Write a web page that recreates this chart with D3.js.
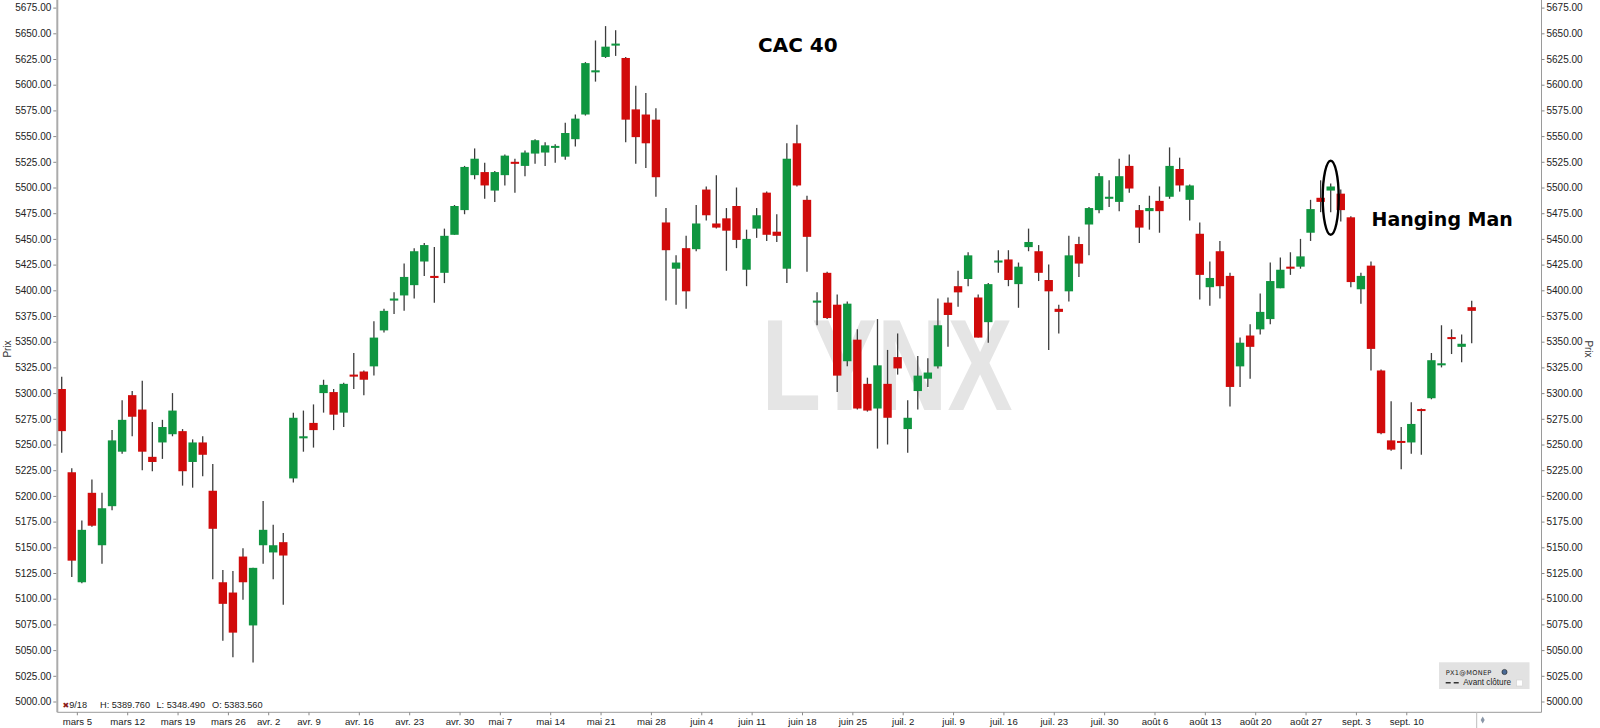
<!DOCTYPE html>
<html>
<head>
<meta charset="utf-8">
<script src="https://cdn.jsdelivr.net/npm/d3@7"></script>
<style>
  html, body { margin: 0; padding: 0; background: #fff; }
  svg { display: block; }
</style>
</head>
<body>
<svg id="chart" width="1600" height="728"></svg>
<script>
// ---------------- DATA ----------------
const dates = [
"2018-03-01","2018-03-02","2018-03-05","2018-03-06","2018-03-07","2018-03-08","2018-03-09","2018-03-12","2018-03-13","2018-03-14",
"2018-03-15","2018-03-16","2018-03-19","2018-03-20","2018-03-21","2018-03-22","2018-03-23","2018-03-26","2018-03-27","2018-03-28",
"2018-03-29","2018-04-03","2018-04-04","2018-04-05","2018-04-06","2018-04-09","2018-04-10","2018-04-11","2018-04-12","2018-04-13",
"2018-04-16","2018-04-17","2018-04-18","2018-04-19","2018-04-20","2018-04-23","2018-04-24","2018-04-25","2018-04-26","2018-04-27",
"2018-04-30","2018-05-02","2018-05-03","2018-05-04","2018-05-07","2018-05-08","2018-05-09","2018-05-10","2018-05-11","2018-05-14",
"2018-05-15","2018-05-16","2018-05-17","2018-05-18","2018-05-21","2018-05-22","2018-05-23","2018-05-24","2018-05-25","2018-05-28",
"2018-05-29","2018-05-30","2018-05-31","2018-06-01","2018-06-04","2018-06-05","2018-06-06","2018-06-07","2018-06-08","2018-06-11",
"2018-06-12","2018-06-13","2018-06-14","2018-06-15","2018-06-18","2018-06-19","2018-06-20","2018-06-21","2018-06-22","2018-06-25",
"2018-06-26","2018-06-27","2018-06-28","2018-06-29","2018-07-02","2018-07-03","2018-07-04","2018-07-05","2018-07-06","2018-07-09",
"2018-07-10","2018-07-11","2018-07-12","2018-07-13","2018-07-16","2018-07-17","2018-07-18","2018-07-19","2018-07-20","2018-07-23",
"2018-07-24","2018-07-25","2018-07-26","2018-07-27","2018-07-30","2018-07-31","2018-08-01","2018-08-02","2018-08-03","2018-08-06",
"2018-08-07","2018-08-08","2018-08-09","2018-08-10","2018-08-13","2018-08-14","2018-08-15","2018-08-16","2018-08-17","2018-08-20",
"2018-08-21","2018-08-22","2018-08-23","2018-08-24","2018-08-27","2018-08-28","2018-08-29","2018-08-30","2018-08-31","2018-09-03",
"2018-09-04","2018-09-05","2018-09-06","2018-09-07","2018-09-10","2018-09-11","2018-09-12","2018-09-13","2018-09-14","2018-09-17",
"2018-09-18"
];

const openVals = [
5304,5223,5116,5203,5152,5190,5243,5298,5284,5238, 5252,5260,5263,5233,5252,5205,5116,5106,5141,5074,
5152,5145,5155,5217,5256,5271,5300,5301,5281,5318, 5321,5326,5361,5390,5395,5405,5428,5414,5417,5454,
5478,5512,5515,5497,5512,5525,5521,5533,5534,5539, 5530,5547,5571,5612,5627,5638,5626,5576,5571,5566,
5466,5421,5441,5440,5498,5465,5470,5482,5420,5460, 5495,5457,5421,5543,5488,5388,5417,5386,5331,5352,
5309,5285,5309,5335,5265,5302,5314,5326,5388,5404, 5411,5393,5369,5427,5430,5406,5442,5438,5410,5382,
5399,5445,5464,5478,5489,5486,5521,5478,5477,5487, 5491,5518,5488,5455,5403,5438,5414,5326,5356,5362,
5372,5402,5423,5423,5456,5490,5497,5494,5471,5401, 5424,5322,5254,5253,5252,5284,5295,5327,5354,5345,
5383.56
];
const highVals = [
5316,5227,5176,5216,5203,5264,5293,5302,5312,5272, 5274,5300,5265,5255,5258,5231,5128,5127,5149,5130,
5195,5172,5164,5281,5283,5289,5313,5304,5310,5339, 5322,5370,5382,5398,5426,5441,5446,5442,5460,5483,
5521,5538,5524,5516,5532,5528,5536,5547,5544,5542, 5563,5571,5622,5643,5657,5653,5627,5599,5592,5577,
5480,5434,5453,5483,5501,5512,5480,5500,5459,5480, 5496,5474,5543,5561,5492,5398,5418,5396,5389,5362,
5315,5372,5342,5358,5293,5336,5334,5392,5393,5419, 5437,5396,5407,5439,5439,5427,5460,5444,5425,5386,
5453,5452,5481,5514,5507,5528,5532,5483,5492,5501, 5539,5529,5503,5466,5428,5448,5417,5354,5367,5397,
5427,5432,5437,5450,5488,5507,5504,5498,5472,5417, 5428,5323,5292,5267,5291,5285,5339,5366,5362,5357,
5389.76
];
const lowVals = [
5242,5121,5115,5170,5134,5186,5241,5258,5225,5224, 5236,5258,5210,5208,5219,5119,5059,5043,5099,5038,
5134,5119,5094,5213,5243,5247,5281,5264,5267,5304, 5298,5317,5359,5377,5380,5392,5414,5388,5407,5454,
5474,5508,5489,5486,5502,5495,5511,5523,5521,5524, 5527,5540,5570,5603,5626,5628,5544,5523,5519,5491,
5390,5386,5382,5438,5468,5460,5419,5441,5404,5451, 5448,5447,5407,5501,5418,5366,5372,5301,5326,5284,
5282,5246,5250,5318,5242,5284,5306,5324,5345,5384, 5404,5354,5349,5417,5404,5383,5438,5409,5342,5358,
5389,5413,5434,5475,5481,5477,5495,5446,5459,5456, 5489,5496,5468,5391,5385,5392,5287,5306,5314,5357,
5367,5402,5415,5421,5448,5476,5476,5467,5403,5387, 5322,5260,5244,5226,5241,5240,5294,5325,5338,5330,
5348.49
];
const closeVals = [
5263,5137,5167,5171,5188,5254,5274,5277,5243,5233, 5267,5283,5224,5252,5240,5168,5095,5067,5116,5130,
5167,5152,5142,5276,5258,5264,5308,5279,5309,5316, 5313,5354,5380,5392,5413,5438,5444,5412,5453,5482,
5520,5528,5502,5515,5531,5523,5534,5546,5541,5540, 5553,5567,5621,5614,5637,5640,5566,5549,5543,5510,
5439,5427,5399,5465,5473,5461,5458,5449,5450,5473, 5454,5453,5528,5502,5452,5390,5373,5317,5387,5285,
5283,5327,5276,5324,5276,5317,5320,5366,5376,5398, 5434,5354,5406,5429,5410,5423,5447,5417,5399,5379,
5434,5426,5480,5511,5491,5511,5499,5461,5480,5477, 5521,5502,5502,5415,5412,5404,5306,5349,5345,5379,
5409,5420,5421,5433,5479,5486,5501,5478,5408,5414, 5343,5261,5245,5252,5270,5283,5332,5329,5353,5348,
5380
];

const tickDates = ["2018-03-05","2018-03-12","2018-03-19","2018-03-26","2018-04-03","2018-04-09","2018-04-16",
  "2018-04-23","2018-04-30","2018-05-07","2018-05-14","2018-05-21","2018-05-28","2018-06-04","2018-06-11",
  "2018-06-18","2018-06-25","2018-07-02","2018-07-09","2018-07-16","2018-07-23","2018-07-30","2018-08-06",
  "2018-08-13","2018-08-20","2018-08-27","2018-09-03","2018-09-10"];
const tickLabels = ["mars 5","mars 12","mars 19","mars 26","avr. 2","avr. 9","avr. 16","avr. 23","avr. 30",
  "mai 7","mai 14","mai 21","mai 28","juin 4","juin 11","juin 18","juin 25","juil. 2","juil. 9","juil. 16",
  "juil. 23","juil. 30","août 6","août 13","août 20","août 27","sept. 3","sept. 10"];

const priceTicks = d3.range(5000, 5676, 25);
const chartTitle = "CAC 40";
const annotationText = "Hanging Man";
const annotationDate = "2018-08-29";
const infoParts = [["✖9/18", 62.5], ["H: 5389.760", 100], ["L: 5348.490", 156.5], ["O: 5383.560", 212]];

// ---------------- LAYOUT ----------------
const svg = d3.select("#chart");
const plotLeft = 57.3, plotRight = 1541.5, plotBottom = 712.3;

const x = d3.scalePoint().domain(dates).range([61.7, 1471.7]);
const y = d3.scaleLinear().domain([5000, 5675]).range([701.5, 7.6]);

const RED = "#d10b0b", GREEN = "#0f9640", WICK = "#3c3c3c";
const bodyW = 8.4;

// watermark
svg.append("text")
  .attr("x", 761.5).attr("y", 410)
  .attr("font-family", "Liberation Sans, Arial, sans-serif")
  .attr("font-weight", "bold")
  .attr("font-size", 130)
  .attr("textLength", 251)
  .attr("lengthAdjust", "spacingAndGlyphs")
  .attr("fill", "#e5e5e5")
  .text("LYNX");

// candles
const candles = dates.map((d, i) => ({date: d, o: openVals[i], h: highVals[i], l: lowVals[i], c: closeVals[i]}));
const g = svg.append("g");
g.selectAll("line.wick").data(candles).join("line")
  .attr("class", "wick")
  .attr("x1", d => x(d.date)).attr("x2", d => x(d.date))
  .attr("y1", d => y(d.h)).attr("y2", d => y(d.l))
  .attr("stroke", WICK).attr("stroke-width", 1.3);
g.selectAll("rect.body").data(candles).join("rect")
  .attr("class", "body")
  .attr("x", d => x(d.date) - bodyW / 2)
  .attr("width", bodyW)
  .attr("y", d => {
    const top = y(Math.max(d.o, d.c)), bot = y(Math.min(d.o, d.c));
    return (bot - top) < 2 ? (top + bot) / 2 - 1 : top;
  })
  .attr("height", d => Math.max(2, y(Math.min(d.o, d.c)) - y(Math.max(d.o, d.c))))
  .attr("fill", d => d.c >= d.o ? GREEN : RED);

// axes lines
svg.append("line").attr("x1", plotLeft).attr("x2", plotLeft).attr("y1", 0).attr("y2", plotBottom)
  .attr("stroke", "#ababab").attr("stroke-width", 2);
svg.append("line").attr("x1", plotRight).attr("x2", plotRight).attr("y1", 0).attr("y2", plotBottom)
  .attr("stroke", "#9a9a9a").attr("stroke-width", 1);
svg.append("line").attr("x1", plotLeft).attr("x2", plotRight).attr("y1", plotBottom).attr("y2", plotBottom)
  .attr("stroke", "#9a9a9a").attr("stroke-width", 1);

const fmt = d3.format(".2f");
const axL = svg.append("g").attr("transform", `translate(${plotLeft - 1},0)`)
  .call(d3.axisLeft(y).tickValues(priceTicks).tickFormat(fmt).tickSize(3).tickPadding(2));
const axR = svg.append("g").attr("transform", `translate(${plotRight},0)`)
  .call(d3.axisRight(y).tickValues(priceTicks).tickFormat(fmt).tickSize(3).tickPadding(2));
[axL, axR].forEach(a => {
  a.select(".domain").remove();
  a.selectAll(".tick line").attr("stroke", "#8a8a8a");
  a.selectAll(".tick text").attr("font-family", "Liberation Sans, Arial, sans-serif")
    .attr("font-size", 10).attr("fill", "#222");
});

const axB = svg.append("g").attr("transform", `translate(-5,${plotBottom})`)
  .call(d3.axisBottom(x).tickValues(tickDates).tickFormat((d, i) => tickLabels[i]).tickSize(3).tickPadding(3));
axB.select(".domain").remove();
axB.selectAll(".tick line").attr("stroke", "#8a8a8a");
axB.selectAll(".tick text").attr("font-family", "Liberation Sans, Arial, sans-serif")
  .attr("font-size", 9.6).attr("fill", "#222");

// Prix labels
svg.append("text").attr("transform", "translate(11,349) rotate(-90)")
  .attr("text-anchor", "middle").attr("font-family", "Liberation Sans, Arial, sans-serif")
  .attr("font-size", 10).attr("fill", "#333").text("Prix");
svg.append("text").attr("transform", "translate(1585,349) rotate(90)")
  .attr("text-anchor", "middle").attr("font-family", "Liberation Sans, Arial, sans-serif")
  .attr("font-size", 10).attr("fill", "#333").text("Prix");

// bottom-left info
infoParts.forEach(([t, px], i) => {
  const tx = svg.append("text").attr("x", px).attr("y", 708.3)
    .attr("font-family", "Liberation Sans, Arial, sans-serif").attr("font-size", 9.2).attr("fill", "#222");
  if (i === 0) {
    tx.append("tspan").attr("fill", "#8b1a1a").attr("font-family", "DejaVu Sans, sans-serif").attr("font-size", 8).text(t[0]);
    tx.append("tspan").text(t.slice(1));
  } else tx.text(t);
});

// right-bottom marker
svg.append("line").attr("x1", 1476.7).attr("x2", 1476.7).attr("y1", plotBottom).attr("y2", 728)
  .attr("stroke", "#bdbdbd").attr("stroke-width", 1);
svg.append("path").attr("d", d3.symbol(d3.symbolDiamond, 14)())
  .attr("transform", "translate(1482.7,720)").attr("fill", "#8a97a8");

// legend box
const lg = svg.append("g");
lg.append("rect").attr("x", 1439).attr("y", 662.3).attr("width", 90.5).attr("height", 26.7).attr("fill", "#e2e2e2");
lg.append("text").attr("x", 1445.7).attr("y", 675.3)
  .attr("font-family", "DejaVu Sans, sans-serif").attr("font-size", 6.6).attr("letter-spacing", 0.3)
  .attr("fill", "#222").text("PX1@MONEP");
lg.append("circle").attr("cx", 1504.5).attr("cy", 672).attr("r", 2.6).attr("fill", "#4a6a95").attr("stroke", "#222").attr("stroke-width", 0.6);
lg.append("line").attr("x1", 1445.7).attr("x2", 1460).attr("y1", 682.7).attr("y2", 682.7)
  .attr("stroke", "#333").attr("stroke-width", 1.6).attr("stroke-dasharray", "5,3");
lg.append("text").attr("x", 1463.3).attr("y", 685.3)
  .attr("font-family", "Liberation Sans, Arial, sans-serif").attr("font-size", 8.2)
  .attr("fill", "#222").text("Avant clôture");
lg.append("rect").attr("x", 1516.7).attr("y", 680).attr("width", 6).attr("height", 6)
  .attr("fill", "#fff").attr("stroke", "#d0d0d0").attr("stroke-width", 0.6);

// title
svg.append("text").attr("x", 758).attr("y", 52.3)
  .attr("font-family", "DejaVu Sans, Verdana, sans-serif").attr("font-weight", "bold")
  .attr("font-size", 20).attr("fill", "#000").text(chartTitle);

// annotation
const ai = dates.indexOf(annotationDate);
svg.append("ellipse")
  .attr("cx", x(annotationDate)).attr("cy", (y(highVals[ai]) + y(lowVals[ai])) / 2)
  .attr("rx", 8).attr("ry", 37)
  .attr("fill", "none").attr("stroke", "#000").attr("stroke-width", 2.4);
svg.append("text").attr("x", 1371.5).attr("y", 226)
  .attr("font-family", "DejaVu Sans, Verdana, sans-serif").attr("font-weight", "bold")
  .attr("font-size", 19).attr("fill", "#000").text(annotationText);
</script>
</body>
</html>
